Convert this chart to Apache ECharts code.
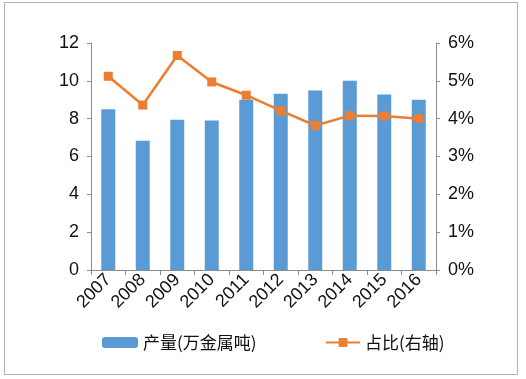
<!DOCTYPE html>
<html><head><meta charset="utf-8">
<script src="https://cdn.jsdelivr.net/npm/echarts@6/dist/echarts.min.js"></script>
<style>html,body{margin:0;padding:0;background:#fff}#c{width:526px;height:379px}</style>
</head><body><div id="c"></div>
<script>
const categories = ['2007','2008','2009','2010','2011','2012','2013','2014','2015','2016'];
const production = [8.5, 6.83, 7.94, 7.9, 9.0, 9.32, 9.49, 10.0, 9.28, 9.0];
const share = [5.12, 4.36, 5.67, 4.97, 4.62, 4.21, 3.82, 4.08, 4.07, 4.0];
const leftTicks = [0, 2, 4, 6, 8, 10, 12];
const rightTicks = [0, 1, 2, 3, 4, 5, 6];

const chart = echarts.init(document.getElementById('c'));
const font = 'Liberation Sans, Arial, sans-serif';
chart.setOption({
  animation: false,
  graphic: [{type:'rect', shape:{x:4.5,y:2.5,width:513,height:372}, style:{fill:'none', stroke:'#b0b0b0', lineWidth:1}}],
  grid: {left: 91, right: 90, top: 43, height: 227},
  legend: [
    {data:['产量(万金属吨)'], left: 97, top: 329, itemWidth: 36, itemHeight: 11, itemGap: 6,
     textStyle:{fontSize:17, color:'#111', fontFamily:'Noto Sans CJK SC'}},
    {data:['占比(右轴)'], left: 320, top: 329, itemWidth: 34, itemHeight: 11,
     textStyle:{fontSize:17, color:'#111', fontFamily:'Noto Sans CJK SC'}}
  ],
  xAxis: {
    type: 'category', data: categories,
    axisLine: {lineStyle:{color:'#8c8c8c'}},
    axisTick: {show:true, length:5, lineStyle:{color:'#8c8c8c'}},
    axisLabel: {rotate: 45, fontSize: 18, color:'#111', fontFamily: font, margin: 7, interval: 0}
  },
  yAxis: [
    {type:'value', min: leftTicks[0], max: leftTicks[leftTicks.length-1], interval: 2,
     axisLine:{show:true, lineStyle:{color:'#8c8c8c'}},
     axisTick:{show:true, length:4, lineStyle:{color:'#8c8c8c'}},
     splitLine:{show:false},
     axisLabel:{fontSize:18, color:'#111', fontFamily: font, margin: 12}},
    {type:'value', min: rightTicks[0], max: rightTicks[rightTicks.length-1], interval: 1,
     axisLine:{show:true, lineStyle:{color:'#8c8c8c'}},
     axisTick:{show:true, length:4, lineStyle:{color:'#8c8c8c'}},
     splitLine:{show:false},
     axisLabel:{fontSize:18, color:'#111', fontFamily: font, margin: 12, formatter: v => v + '%'}}
  ],
  series: [
    {name:'产量(万金属吨)', type:'bar', data: production, barWidth: 14,
     itemStyle:{color:'#5B9BD5'}},
    {name:'占比(右轴)', type:'line', yAxisIndex: 1, data: share,
     symbol:'rect', symbolSize: 9, lineStyle:{color:'#ED7D31', width:2.5},
     itemStyle:{color:'#ED7D31'}}
  ]
});
</script></body></html>
